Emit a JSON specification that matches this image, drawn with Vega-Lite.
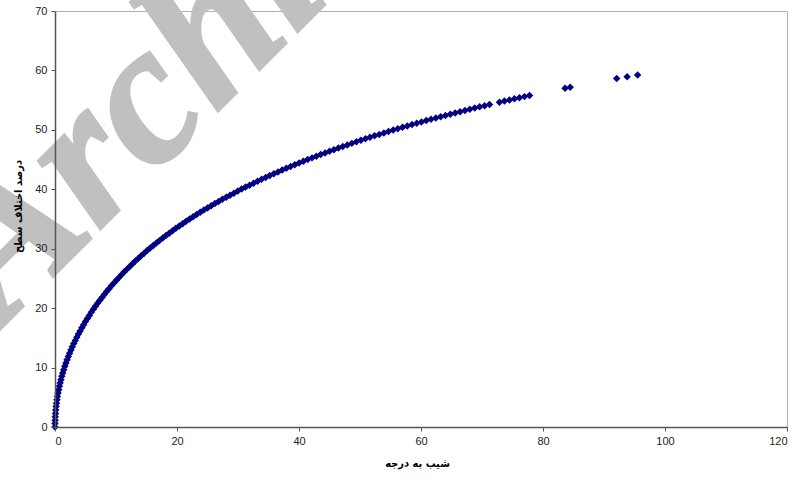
{
  "$schema": "https://vega.github.io/schema/vega-lite/v6.json",
  "autosize": "none",
  "width": 732,
  "height": 416,
  "padding": {"left": 55, "top": 11, "right": 10, "bottom": 53},
  "background": "white",
  "config": {
    "view": {"stroke": "#b0b0b0", "strokeWidth": 1},
    "axis": {
      "grid": false,
      "zindex": 1,
      "domainColor": "#555555",
      "domainWidth": 1.5,
      "tickColor": "#555555",
      "tickSize": 4,
      "labelFont": "Liberation Sans",
      "labelFontSize": 11,
      "labelColor": "#222222",
      "titleFont": "DejaVu Sans Condensed, DejaVu Sans",
      "titleFontSize": 11,
      "titleFontWeight": "bold",
      "titleColor": "#000000"
    }
  },
  "datasets": {
    "pts": [
      {"x":0,"y":0},{"x":0.005,"y":0.573},{"x":0.02,"y":1.146},{"x":0.045,"y":1.718},{"x":0.08,"y":2.291},
      {"x":0.125,"y":2.862},{"x":0.18,"y":3.434},{"x":0.245,"y":4.004},{"x":0.32,"y":4.574},{"x":0.404,"y":5.143},
      {"x":0.499,"y":5.711},{"x":0.603,"y":6.277},{"x":0.717,"y":6.843},{"x":0.841,"y":7.407},{"x":0.975,"y":7.97},
      {"x":1.119,"y":8.531},{"x":1.272,"y":9.09},{"x":1.435,"y":9.648},{"x":1.607,"y":10.204},{"x":1.789,"y":10.758},
      {"x":1.98,"y":11.31},{"x":2.181,"y":11.86},{"x":2.391,"y":12.407},{"x":2.611,"y":12.953},{"x":2.84,"y":13.496},
      {"x":3.078,"y":14.036},{"x":3.325,"y":14.574},{"x":3.581,"y":15.11},{"x":3.846,"y":15.642},{"x":4.12,"y":16.172},
      {"x":4.403,"y":16.699},{"x":4.695,"y":17.223},{"x":4.995,"y":17.745},{"x":5.304,"y":18.263},{"x":5.622,"y":18.778},
      {"x":5.948,"y":19.29},{"x":6.283,"y":19.799},{"x":6.626,"y":20.305},{"x":6.977,"y":20.807},{"x":7.336,"y":21.306},
      {"x":7.703,"y":21.801},{"x":8.079,"y":22.294},{"x":8.462,"y":22.783},{"x":8.853,"y":23.268},{"x":9.252,"y":23.75},
      {"x":9.659,"y":24.228},{"x":10.073,"y":24.703},{"x":10.494,"y":25.174},{"x":10.923,"y":25.641},{"x":11.36,"y":26.105},
      {"x":11.803,"y":26.565},{"x":12.254,"y":27.022},{"x":12.712,"y":27.475},{"x":13.177,"y":27.924},{"x":13.649,"y":28.369},
      {"x":14.127,"y":28.811},{"x":14.612,"y":29.249},{"x":15.104,"y":29.684},{"x":15.603,"y":30.114},{"x":16.108,"y":30.541},
      {"x":16.619,"y":30.964},{"x":17.137,"y":31.384},{"x":17.661,"y":31.799},{"x":18.191,"y":32.211},{"x":18.727,"y":32.62},
      {"x":19.269,"y":33.024},{"x":19.817,"y":33.425},{"x":20.37,"y":33.823},{"x":20.93,"y":34.216},{"x":21.495,"y":34.606},
      {"x":22.066,"y":34.992},{"x":22.642,"y":35.375},{"x":23.223,"y":35.754},{"x":23.81,"y":36.13},{"x":24.403,"y":36.502},
      {"x":25.0,"y":36.87},{"x":25.603,"y":37.235},{"x":26.21,"y":37.597},{"x":26.823,"y":37.955},{"x":27.44,"y":38.309},
      {"x":28.062,"y":38.66},{"x":28.69,"y":39.008},{"x":29.321,"y":39.352},{"x":29.958,"y":39.693},{"x":30.599,"y":40.031},
      {"x":31.244,"y":40.365},{"x":31.894,"y":40.696},{"x":32.548,"y":41.024},{"x":33.207,"y":41.348},{"x":33.869,"y":41.67},
      {"x":34.536,"y":41.988},{"x":35.207,"y":42.303},{"x":35.882,"y":42.614},{"x":36.561,"y":42.923},{"x":37.244,"y":43.229},
      {"x":37.931,"y":43.532},{"x":38.622,"y":43.831},{"x":39.316,"y":44.128},{"x":40.014,"y":44.422},{"x":40.716,"y":44.713},
      {"x":41.421,"y":45.0},{"x":42.13,"y":45.285},{"x":42.843,"y":45.567},{"x":43.558,"y":45.847},{"x":44.278,"y":46.123},
      {"x":45.0,"y":46.397},{"x":45.726,"y":46.668},{"x":46.455,"y":46.937},{"x":47.187,"y":47.203},{"x":47.922,"y":47.466},
      {"x":48.661,"y":47.726},{"x":49.402,"y":47.984},{"x":50.147,"y":48.24},{"x":50.894,"y":48.493},{"x":51.644,"y":48.743},
      {"x":52.398,"y":48.991},{"x":53.154,"y":49.237},{"x":53.912,"y":49.48},{"x":54.674,"y":49.72},{"x":55.438,"y":49.959},
      {"x":56.205,"y":50.195},{"x":56.975,"y":50.428},{"x":57.747,"y":50.66},{"x":58.521,"y":50.889},{"x":59.299,"y":51.116},
      {"x":60.078,"y":51.34},{"x":60.86,"y":51.563},{"x":61.645,"y":51.783},{"x":62.432,"y":52.002},{"x":63.221,"y":52.218},
      {"x":64.012,"y":52.432},{"x":64.806,"y":52.644},{"x":65.602,"y":52.854},{"x":66.4,"y":53.062},{"x":67.2,"y":53.267},
      {"x":68.003,"y":53.471},{"x":68.808,"y":53.673},{"x":69.614,"y":53.874},{"x":70.423,"y":54.072},{"x":71.234,"y":54.268},
      {"x":72.861,"y":54.655},{"x":73.678,"y":54.846},{"x":74.496,"y":55.035},{"x":75.317,"y":55.222},{"x":76.139,"y":55.408},
      {"x":76.963,"y":55.592},{"x":77.789,"y":55.774},
      {"x":83.619,"y":57.002},{"x":84.459,"y":57.172},
      {"x":92.083,"y":58.627},{"x":93.794,"y":58.935},{"x":95.51,"y":59.237}
    ],
    "wm": [{"x": -8.5, "y": 17.0, "t": "Archive of SID"}]
  },
  "layer": [
    {
      "data": {"name": "wm"},
      "mark": {"type": "text", "font": "Liberation Serif", "fontSize": 200, "fontWeight": "bold", "fontStyle": "italic", "angle": 315, "align": "left", "baseline": "alphabetic", "color": "#c0c0c0", "stroke": "#c0c0c0", "strokeWidth": 3},
      "encoding": {
        "x": {"field": "x", "type": "quantitative"},
        "y": {"field": "y", "type": "quantitative"},
        "text": {"field": "t"}
      }
    },
    {
      "data": {"name": "pts"},
      "mark": {"type": "point", "shape": "diamond", "filled": true, "size": 56, "color": "#000080", "opacity": 1},
      "encoding": {
        "x": {"field": "x", "type": "quantitative", "scale": {"domain": [0, 120], "nice": false, "zero": false},
              "axis": {"zindex": 1, "values": [0, 20, 40, 60, 80, 100, 120], "title": "شیب به درجه", "labelPadding": 4, "titleX": 362, "titleY": 36, "titleBaseline": "middle"}},
        "y": {"field": "y", "type": "quantitative", "scale": {"domain": [0, 70], "nice": false, "zero": false},
              "axis": {"zindex": 1, "values": [0, 10, 20, 30, 40, 50, 60, 70], "title": "درصد اختلاف سطح", "labelPadding": 4, "titleX": -37, "titleY": 195, "titleBaseline": "middle", "titleAngle": -90}}
      }
    }
  ]
}
